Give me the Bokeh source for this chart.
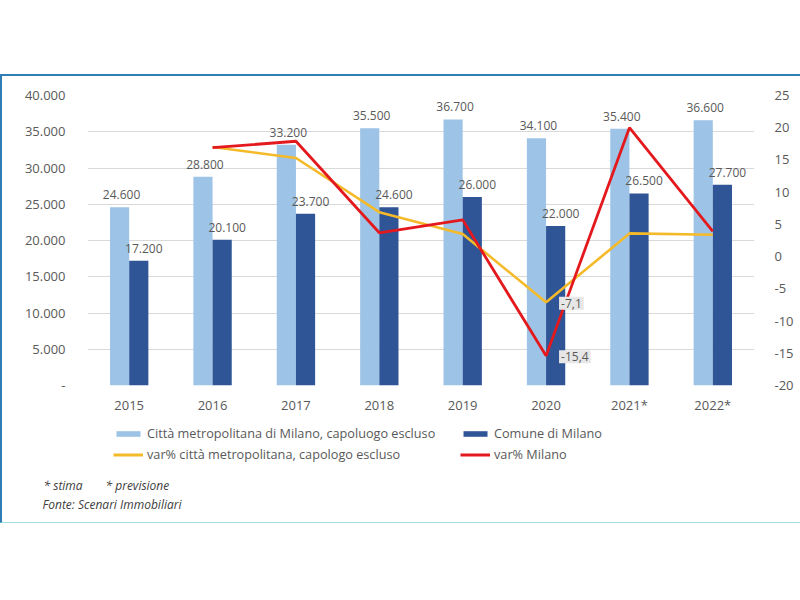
from bokeh.plotting import figure
from bokeh.models import (ColumnDataSource, Range1d, LinearAxis, FixedTicker, Legend,
                          LegendItem, Label, Spacer, FactorRange)
from bokeh.transform import dodge
from bokeh.layouts import column
from bokeh.embed import file_html
from bokeh.resources import INLINE
from bokeh.core.properties import value

# ---- data ----
years = ["2015", "2016", "2017", "2018", "2019", "2020", "2021*", "2022*"]
metro = [24600, 28800, 33200, 35500, 36700, 34100, 35400, 36600]
milano = [17200, 20100, 23700, 24600, 26000, 22000, 26500, 27700]
var_years = ["2016", "2017", "2018", "2019", "2020", "2021*", "2022*"]
var_metro = [17.0, 15.3, 6.9, 3.5, -7.1, 3.6, 3.4]
var_milano = [16.9, 17.9, 3.7, 5.7, -15.4, 20.0, 3.9]
left_ticks = [0, 5000, 10000, 15000, 20000, 25000, 30000, 35000, 40000]
right_ticks = [-20, -15, -10, -5, 0, 5, 10, 15, 20, 25]
labelled_year = ["2020"]

FONT = "Open Sans"
GREY = "#595959"
LIGHT = "#9DC3E6"
DARK = "#2F5597"
YELLOW = "#F5BA2A"
RED = "#E3191E"


def it_num(v):
    return f"{v:,}".replace(",", ".")


src = ColumnDataSource(dict(
    year=years, metro=metro, milano=milano,
    metro_lbl=[it_num(v) for v in metro],
    milano_lbl=[it_num(v) for v in milano],
))
src_ym = ColumnDataSource(dict(year=var_years, v=var_metro))
src_rm = ColumnDataSource(dict(year=var_years, v=var_milano))

W = 798
p = figure(x_range=FactorRange(*years), y_range=Range1d(0, 40000),
           width=W, height=345, output_backend="svg", toolbar_location=None,
           min_border_left=85, min_border_right=46, min_border_top=19,
           min_border_bottom=36)
p.frame_align = False
p.extra_y_ranges = {"pct": Range1d(-20, 25)}
p.outline_line_color = None
p.background_fill_color = "white"
p.border_fill_color = "white"

r_metro = p.vbar(x=dodge("year", -0.115, range=p.x_range), top="metro", width=0.23,
                 source=src, fill_color=LIGHT, line_color=None)
r_mil = p.vbar(x=dodge("year", 0.115, range=p.x_range), top="milano", width=0.23,
               source=src, fill_color=DARK, line_color=None)

p.text(x=dodge("year", -0.115, range=p.x_range), y="metro", text="metro_lbl", source=src,
       text_align="center", text_baseline="bottom", x_offset=2, y_offset=-8,
       text_font=value(FONT), text_font_size="12px", text_color=GREY)
p.text(x=dodge("year", 0.115, range=p.x_range), y="milano", text="milano_lbl", source=src,
       text_align="center", text_baseline="bottom", x_offset=5, y_offset=-8,
       text_font=value(FONT), text_font_size="12px", text_color=GREY)

r_ym = p.line(x="year", y="v", source=src_ym, y_range_name="pct",
              line_color=YELLOW, line_width=2.6)
r_rm = p.line(x="year", y="v", source=src_rm, y_range_name="pct",
              line_color=RED, line_width=2.8)


# data labels for 2020
def lbl_src(vals):
    i = var_years.index(labelled_year[0])
    v = vals[i]
    return ColumnDataSource(dict(x=labelled_year, y=[v],
                                 t=[f"{v:.1f}".replace(".", ",")]))


for s in (lbl_src(var_metro), lbl_src(var_milano)):
    p.text(x="x", y="y", text="t", source=s, y_range_name="pct",
           x_offset=13, y_offset=1, text_align="left", text_baseline="middle",
           text_font=value(FONT), text_font_size="12px", text_color=GREY,
           background_fill_color="#E7E7E7", padding=2)

# axes
p.yaxis.ticker = FixedTicker(ticks=left_ticks)
p.yaxis.major_label_overrides = {t: (it_num(t) if t else "-") for t in left_ticks}
p.ygrid.ticker = FixedTicker(ticks=left_ticks)
p.ygrid.grid_line_color = "#D9D9D9"
p.xgrid.visible = False

ax_r = LinearAxis(y_range_name="pct", ticker=FixedTicker(ticks=right_ticks))
ax_r.major_label_overrides = {t: str(t) for t in right_ticks}
p.add_layout(ax_r, "right")

for ax in (p.xaxis[0], p.yaxis[0], ax_r):
    ax.axis_line_color = None
    ax.major_tick_line_color = None
    ax.minor_tick_line_color = None
    ax.major_label_text_color = GREY
    ax.major_label_text_font = FONT
    ax.major_label_text_font_size = "13px"
p.yaxis[0].major_label_standoff = 16
ax_r.major_label_standoff = 14
p.xaxis[0].major_label_standoff = 4

# ---- lower panel: legend and notes ----
H2 = 101
p2 = figure(x_range=Range1d(0, W), y_range=Range1d(0, H2), width=W, height=H2,
            output_backend="svg", toolbar_location=None, min_border=0)
p2.frame_align = False
p2.axis.visible = False
p2.grid.visible = False
p2.outline_line_color = None
p2.border_fill_color = "white"

# off-canvas proxies that only provide the legend swatches
d_metro = p2.vbar(x=[-1000], top=[1], width=1, fill_color=LIGHT, line_color=None)
d_mil = p2.vbar(x=[-1000], top=[1], width=1, fill_color=DARK, line_color=None)
d_ym = p2.line(x=[-1000, -999], y=[1, 1], line_color=YELLOW, line_width=3)
d_rm = p2.line(x=[-1000, -999], y=[1, 1], line_color=RED, line_width=3)


def mk_legend(items, vx):
    lg = Legend(items=items, location=(vx, 58), orientation="vertical",
                glyph_width=30, glyph_height=7, label_height=20, label_standoff=4,
                spacing=1, padding=0, margin=0, border_line_color=None,
                background_fill_alpha=0, label_text_font=FONT,
                label_text_font_size="12.7px", label_text_color=GREY)
    p2.add_layout(lg, "center")


mk_legend([LegendItem(label="Città metropolitana di Milano, capoluogo escluso", renderers=[d_metro]),
           LegendItem(label="var% città metropolitana, capologo escluso", renderers=[d_ym])], 111)
mk_legend([LegendItem(label="Comune di Milano", renderers=[d_mil]),
           LegendItem(label="var% Milano", renderers=[d_rm])], 458)

note_kw = dict(text_font=FONT, text_font_size="12px", text_font_style="italic",
               text_color="#404040", text_baseline="middle")
p2.add_layout(Label(x=41, y=37, text="* stima", **note_kw))
p2.add_layout(Label(x=103, y=37, text="* previsione", **note_kw))
p2.add_layout(Label(x=40, y=18, text="Fonte: Scenari Immobiliari", **note_kw))

box = column(p, p2, spacing=0,
             styles={"border-top": "2px solid #2E7DB5", "border-left": "2px solid #2E7DB5",
                     "border-bottom": "1px solid #A6DDE3"})
layout = column(Spacer(width=800, height=74), box)
open("out.html", "w").write(file_html(layout, INLINE))
